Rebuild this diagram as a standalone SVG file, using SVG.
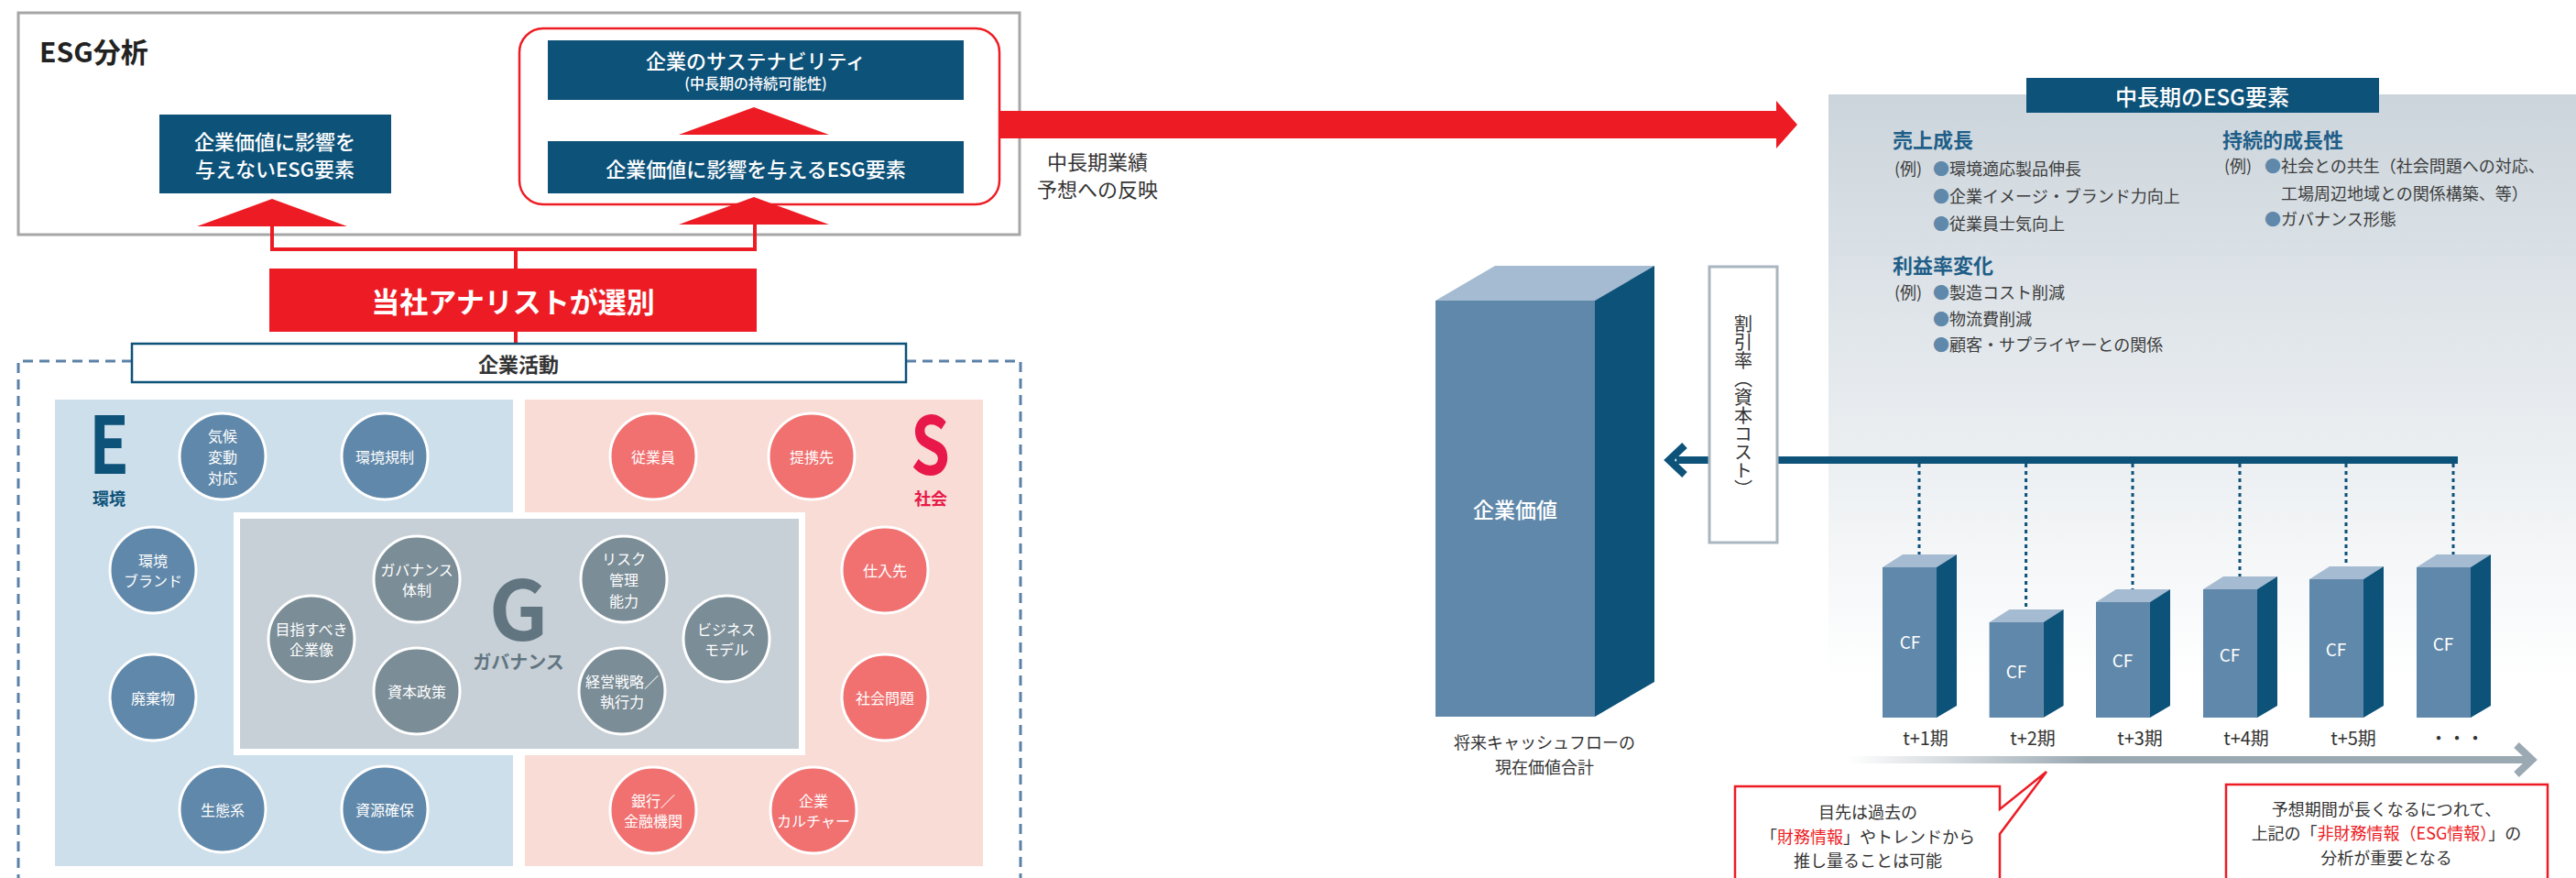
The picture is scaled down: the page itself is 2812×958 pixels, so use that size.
<svg xmlns="http://www.w3.org/2000/svg" width="2812" height="958" viewBox="0 0 2812 958">
<style>
text{font-family:"Noto Sans CJK JP","Noto Sans",sans-serif;}
.navy{fill:#0d5279;}
.red{fill:#ed1c24;}
.wt{fill:#fff;font-size:22px;text-anchor:middle;dominant-baseline:central;font-weight:500;}
.ce{fill:#6088aa;stroke:#fff;stroke-width:3;}
.cs{fill:#f07170;stroke:#fff;stroke-width:3;}
.cg{fill:#7b8d97;stroke:#fff;stroke-width:3;}
.ct{fill:#fff;font-size:16px;text-anchor:middle;dominant-baseline:central;}
.dk{fill:#333;text-anchor:middle;dominant-baseline:central;}
.hd{fill:#1f5e88;font-size:22px;font-weight:bold;dominant-baseline:central;}
.li{fill:#3c3c3c;font-size:18px;dominant-baseline:central;}
.bl{fill:#6088aa;}
.rc{fill:#ed1c24;}
.front{fill:#6088aa;}
.top{fill:#a5bbd1;}
.side{fill:#0d5279;}
.cf{fill:#fff;font-size:19px;text-anchor:middle;dominant-baseline:central;}
.per{fill:#333;font-size:20px;text-anchor:middle;dominant-baseline:central;}
.dot{stroke:#0d5279;stroke-width:3;stroke-dasharray:4 4;fill:none;}
.rl{stroke:#ed1c24;stroke-width:4;fill:none;}
</style>
<defs>
<linearGradient id="pg" x1="0" y1="0" x2="0" y2="1">
<stop offset="0" stop-color="#ccd5dc"/>
<stop offset="1" stop-color="#ffffff"/>
</linearGradient>
<linearGradient id="ag" gradientUnits="userSpaceOnUse" x1="2016" y1="0" x2="2767" y2="0">
<stop offset="0" stop-color="#ffffff"/>
<stop offset="0.35" stop-color="#9ba9b3"/>
<stop offset="1" stop-color="#9ba9b3"/>
</linearGradient>
</defs>

<!-- ESG analysis frame -->
<g id="esg-analysis">
<rect x="20" y="14" width="1093" height="242" fill="#fff" stroke="#a6a6a6" stroke-width="3"/>
<text x="43" y="55" font-size="30" font-weight="bold" fill="#222" dominant-baseline="central">ESG分析</text>
</g>

<g id="sustain-frame">
<rect x="567" y="31" width="524" height="192" rx="26" fill="#fff" stroke="#ed1c24" stroke-width="2.5"/>
</g>

<!-- right: mid-long term ESG factors -->
<g id="esg-factors">
<rect x="1996" y="103" width="816" height="640" fill="url(#pg)"/>
<rect x="2212" y="85" width="385" height="38" class="navy"/>
<text x="2404" y="104" class="wt" style="font-size:24px">中長期のESG要素</text>
<text x="2066" y="151" class="hd">売上成長</text>
<text x="2068" y="183" class="li">(例)</text>
<text x="2110" y="183" class="li"><tspan class="bl">●</tspan>環境適応製品伸長</text>
<text x="2110" y="213" class="li"><tspan class="bl">●</tspan>企業イメージ・ブランド力向上</text>
<text x="2110" y="243" class="li"><tspan class="bl">●</tspan>従業員士気向上</text>
<text x="2066" y="288" class="hd">利益率変化</text>
<text x="2068" y="318" class="li">(例)</text>
<text x="2110" y="318" class="li"><tspan class="bl">●</tspan>製造コスト削減</text>
<text x="2110" y="347" class="li"><tspan class="bl">●</tspan>物流費削減</text>
<text x="2110" y="375" class="li"><tspan class="bl">●</tspan>顧客・サプライヤーとの関係</text>
<text x="2426" y="151" class="hd">持続的成長性</text>
<text x="2428" y="180" class="li">(例)</text>
<text x="2472" y="180" class="li"><tspan class="bl">●</tspan>社会との共生（社会問題への対応、</text>
<text x="2490" y="210" class="li">工場周辺地域との関係構築、等）</text>
<text x="2472" y="238" class="li"><tspan class="bl">●</tspan>ガバナンス形態</text>
</g>

<g id="node-no-impact">
<rect x="174" y="125" width="253" height="86" class="navy"/>
<text x="300" y="153" class="wt">企業価値に影響を</text>
<text x="300" y="183" class="wt">与えないESG要素</text>
</g>

<g id="node-sustain">
<rect x="598" y="44" width="454" height="65" class="navy"/>
<text x="825" y="65" class="wt">企業のサステナビリティ</text>
<text x="825" y="90" class="wt" style="font-size:16px">(中長期の持続可能性)</text>
</g>

<g id="node-impact">
<rect x="598" y="154" width="454" height="57" class="navy"/>
<text x="825" y="183" class="wt">企業価値に影響を与えるESG要素</text>
</g>

<g id="node-analyst">
<rect x="294" y="293" width="532" height="69" class="red"/>
<text x="560" y="327" class="wt" style="font-size:31px;font-weight:bold">当社アナリストが選別</text>
</g>

<!-- connectors -->
<g id="connectors">
<polygon points="215,247 379,247 297,217" class="red"/>
<polygon points="741,147 905,147 823,117" class="red"/>
<polygon points="741,245 905,245 823,215" class="red"/>
<polyline points="297,247 297,272 824,272 824,245" class="rl"/>
<line x1="563" y1="272" x2="563" y2="293" class="rl"/>
<line x1="563" y1="362" x2="563" y2="376" class="rl"/>
<polygon points="1090,121 1939,121 1939,110 1962,136 1939,162 1939,151 1090,151" class="red"/>
<line x1="2683" y1="502" x2="1830" y2="502" stroke="#0d5279" stroke-width="8"/>
<path d="M1839,486 L1822,502 L1839,518" fill="none" stroke="#0d5279" stroke-width="8"/>
<line x1="2095" y1="506" x2="2095" y2="612" class="dot"/>
<line x1="2211.6" y1="506" x2="2211.6" y2="672" class="dot"/>
<line x1="2328" y1="506" x2="2328" y2="650" class="dot"/>
<line x1="2445" y1="506" x2="2445" y2="636" class="dot"/>
<line x1="2561" y1="506" x2="2561" y2="625" class="dot"/>
<line x1="2678" y1="506" x2="2678" y2="612" class="dot"/>
<line x1="2016" y1="829" x2="2762" y2="829" stroke="url(#ag)" stroke-width="8"/>
<path d="M2747,813 L2764,829 L2747,845" fill="none" stroke="#9ba9b3" stroke-width="8"/>
</g>

<text x="1198" y="175" class="dk" font-size="22">中長期業績</text>
<text x="1198" y="205" class="dk" font-size="22">予想への反映</text>

<!-- corporate activities -->
<g id="corp-activities">
<path d="M144,394 L20,394 L20,960 M989,394 L1114,394 L1114,960" fill="none" stroke="#5b81a8" stroke-width="3" stroke-dasharray="11 7"/>
<rect x="144" y="375" width="845" height="42" fill="#fff" stroke="#0d5279" stroke-width="2.5"/>
<text x="566" y="396" class="dk" font-size="22" font-weight="bold" fill="#222">企業活動</text>
</g>

<g id="panel-e">
<rect x="60" y="436" width="500" height="509" fill="#cddfeb"/>
<text x="97" y="517" font-family="Liberation Sans" font-size="86" font-weight="bold" fill="#0d5279" textLength="44" lengthAdjust="spacingAndGlyphs">E</text>
<text x="119" y="543" font-size="18" font-weight="bold" fill="#0d5279" text-anchor="middle" dominant-baseline="central">環境</text>
</g>
<g id="panel-s">
<rect x="573" y="436" width="500" height="509" fill="#f9dcd5"/>
<text x="994" y="518" font-family="Liberation Sans" font-size="88" font-weight="bold" fill="#e8194a" textLength="43" lengthAdjust="spacingAndGlyphs">S</text>
<text x="1016" y="543" font-size="18" font-weight="bold" fill="#e8194a" text-anchor="middle" dominant-baseline="central">社会</text>
</g>
<g id="panel-g">
<rect x="255" y="559" width="624" height="265" fill="#fff"/>
<rect x="262" y="566" width="610" height="251" fill="#c8d0d7"/>
<text x="566" y="699" font-family="Liberation Sans" font-size="90" font-weight="bold" fill="#617580" text-anchor="middle">G</text>
<text x="566" y="721" font-size="20" font-weight="bold" fill="#617580" text-anchor="middle" dominant-baseline="central">ガバナンス</text>
</g>

<!-- E circles -->
<g id="e-climate"><circle cx="243" cy="498" r="47" class="ce"/><text x="243" y="475" class="ct">気候</text><text x="243" y="498" class="ct">変動</text><text x="243" y="521" class="ct">対応</text></g>
<g id="e-regulation"><circle cx="420" cy="498" r="47" class="ce"/><text x="420" y="498" class="ct">環境規制</text></g>
<g id="e-brand"><circle cx="167" cy="622" r="47" class="ce"/><text x="167" y="611" class="ct">環境</text><text x="167" y="633" class="ct">ブランド</text></g>
<g id="e-waste"><circle cx="167" cy="761" r="47" class="ce"/><text x="167" y="761" class="ct">廃棄物</text></g>
<g id="e-eco"><circle cx="243" cy="883" r="47" class="ce"/><text x="243" y="883" class="ct">生態系</text></g>
<g id="e-resource"><circle cx="420" cy="883" r="47" class="ce"/><text x="420" y="883" class="ct">資源確保</text></g>

<!-- G circles -->
<g id="g-vision"><circle cx="340" cy="697" r="47" class="cg"/><text x="340" y="686" class="ct">目指すべき</text><text x="340" y="708" class="ct">企業像</text></g>
<g id="g-structure"><circle cx="455" cy="632" r="47" class="cg"/><text x="455" y="621" class="ct">ガバナンス</text><text x="455" y="643" class="ct">体制</text></g>
<g id="g-capital"><circle cx="455" cy="754" r="47" class="cg"/><text x="455" y="754" class="ct">資本政策</text></g>
<g id="g-risk"><circle cx="681" cy="632" r="47" class="cg"/><text x="681" y="609" class="ct">リスク</text><text x="681" y="632" class="ct">管理</text><text x="681" y="655" class="ct">能力</text></g>
<g id="g-strategy"><circle cx="679" cy="754" r="47" class="cg"/><text x="679" y="743" class="ct">経営戦略／</text><text x="679" y="765" class="ct">執行力</text></g>
<g id="g-model"><circle cx="793" cy="697" r="47" class="cg"/><text x="793" y="686" class="ct">ビジネス</text><text x="793" y="708" class="ct">モデル</text></g>

<!-- S circles -->
<g id="s-employee"><circle cx="713" cy="498" r="47" class="cs"/><text x="713" y="498" class="ct">従業員</text></g>
<g id="s-partner"><circle cx="886" cy="498" r="47" class="cs"/><text x="886" y="498" class="ct">提携先</text></g>
<g id="s-supplier"><circle cx="966" cy="622" r="47" class="cs"/><text x="966" y="622" class="ct">仕入先</text></g>
<g id="s-issues"><circle cx="966" cy="761" r="47" class="cs"/><text x="966" y="761" class="ct">社会問題</text></g>
<g id="s-bank"><circle cx="713" cy="884" r="47" class="cs"/><text x="713" y="873" class="ct">銀行／</text><text x="713" y="895" class="ct">金融機関</text></g>
<g id="s-culture"><circle cx="888" cy="884" r="47" class="cs"/><text x="888" y="873" class="ct">企業</text><text x="888" y="895" class="ct">カルチャー</text></g>

<g id="corp-value">
<rect x="1567" y="328" width="174" height="454" class="front"/>
<polygon points="1567,328 1632,290 1806,290 1741,328" class="top"/>
<polygon points="1741,328 1806,290 1806,744 1741,782" class="side"/>
<text x="1654" y="555" class="wt" style="font-size:23px">企業価値</text>
<text x="1686" y="809" class="dk" font-size="18">将来キャッシュフローの</text>
<text x="1686" y="836" class="dk" font-size="18">現在価値合計</text>
</g>

<g id="discount-rate">
<rect x="1866" y="291" width="74" height="301" fill="#fff" stroke="#a9b6c0" stroke-width="3"/>
<text x="1903" y="343" font-size="20" fill="#333" style="writing-mode:vertical-rl" text-anchor="start">割引率（資本コスト）</text>
</g>

<g id="cf-bars">
<g id="cf1"><rect x="2055" y="619" width="59" height="164" class="front"/><polygon points="2055,619 2077,605 2136,605 2114,619" class="top"/><polygon points="2114,619 2136,605 2136,770 2114,783" class="side"/><text x="2085" y="699" class="cf">CF</text><text x="2102" y="804" class="per">t+1期</text></g>
<g id="cf2"><rect x="2171.6" y="679" width="59" height="104" class="front"/><polygon points="2171.6,679 2193.6,665 2252.6,665 2230.6,679" class="top"/><polygon points="2230.6,679 2252.6,665 2252.6,770 2230.6,783" class="side"/><text x="2201" y="731" class="cf">CF</text><text x="2219" y="804" class="per">t+2期</text></g>
<g id="cf3"><rect x="2288" y="657" width="59" height="126" class="front"/><polygon points="2288,657 2310,643 2369,643 2347,657" class="top"/><polygon points="2347,657 2369,643 2369,770 2347,783" class="side"/><text x="2317" y="719" class="cf">CF</text><text x="2336" y="804" class="per">t+3期</text></g>
<g id="cf4"><rect x="2405" y="643" width="59" height="140" class="front"/><polygon points="2405,643 2427,629 2486,629 2464,643" class="top"/><polygon points="2464,643 2486,629 2486,770 2464,783" class="side"/><text x="2434" y="713" class="cf">CF</text><text x="2452" y="804" class="per">t+4期</text></g>
<g id="cf5"><rect x="2521" y="632" width="59" height="151" class="front"/><polygon points="2521,632 2543,618 2602,618 2580,632" class="top"/><polygon points="2580,632 2602,618 2602,770 2580,783" class="side"/><text x="2550" y="707" class="cf">CF</text><text x="2569" y="804" class="per">t+5期</text></g>
<g id="cf6"><rect x="2638" y="619" width="59" height="164" class="front"/><polygon points="2638,619 2660,605 2719,605 2697,619" class="top"/><polygon points="2697,619 2719,605 2719,770 2697,783" class="side"/><text x="2667" y="701" class="cf">CF</text><text x="2682" y="804" class="per">・・・</text></g>
</g>

<g id="callout-financial">
<path d="M2183,883 L2183,858 L1894,858 L1894,975 L2183,975 L2183,910 L2234,842 Z" fill="#fff" stroke="#ed1c24" stroke-width="2.5" stroke-linejoin="miter"/>
<text x="2039" y="885" class="dk" font-size="18">目先は過去の</text>
<text x="2039" y="912" class="dk" font-size="18">「<tspan class="rc">財務情報</tspan>」やトレンドから</text>
<text x="2039" y="938" class="dk" font-size="18">推し量ることは可能</text>
</g>

<g id="callout-nonfinancial">
<rect x="2430" y="856" width="351" height="120" fill="#fff" stroke="#ed1c24" stroke-width="2.5"/>
<text x="2605" y="882" class="dk" font-size="18">予想期間が長くなるにつれて、</text>
<text x="2605" y="908" class="dk" font-size="18">上記の「<tspan class="rc">非財務情報（ESG情報）</tspan>」の</text>
<text x="2605" y="935" class="dk" font-size="18">分析が重要となる</text>
</g>
</svg>
